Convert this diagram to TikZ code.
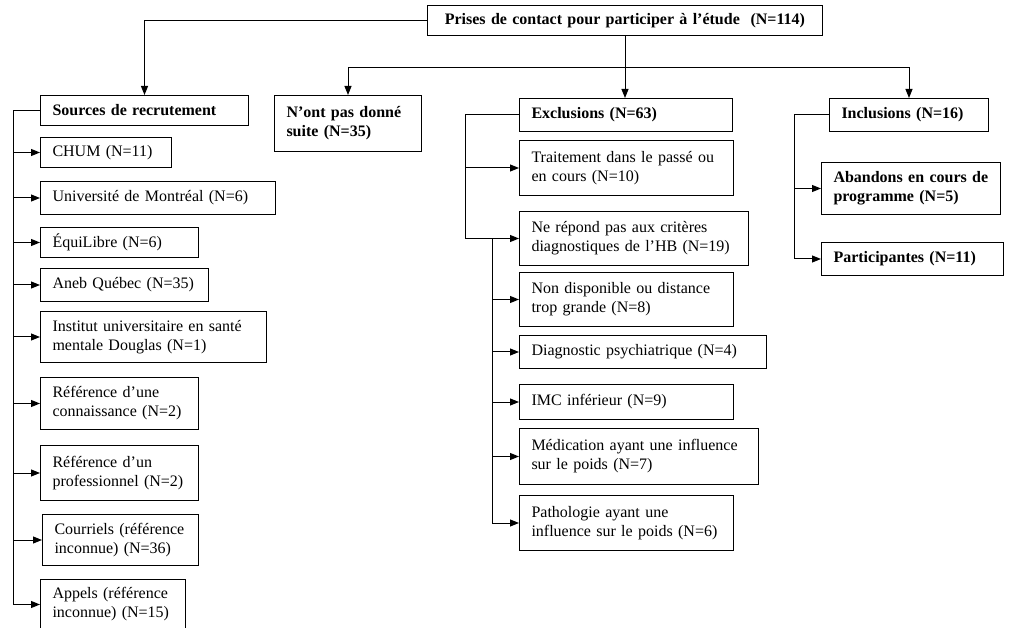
\documentclass[tikz,border=0pt]{standalone}
\usepackage{fontspec}
\setmainfont{Liberation Serif}
\usetikzlibrary{arrows.meta}

\begin{document}
\begin{tikzpicture}[
    x=1pt, y=-1pt,
    line width=1pt,
    every box/.style={
        rectangle,
        draw,
        anchor=north west,
        align=left,
        inner xsep=12pt,
        inner ysep=1pt,
        font=\fontsize{16}{19}\selectfont
    },
    title box/.style={
        every box,
        font=\fontsize{16}{19}\selectfont\bfseries
    },
    link/.style={
        -{Triangle[length=9pt,width=7pt]}
    }
]

\useasboundingbox (0,0) rectangle (1015,628);

% Top box
\node [title box, text width=371pt, minimum height=30pt] (contact) at (427,5) {~Prises de contact pour participer à l’étude~ (N=114)};

% Branches
\node [title box, text width=184pt, minimum height=30pt] (sources) at (40,95) {Sources de recrutement};
\node [title box, text width=123pt, minimum height=56pt] (nopas) at (274,95) {N’ont pas donné\\suite (N=35)};
\node [title box, text width=189pt, minimum height=33pt] (excl) at (519,98) {Exclusions (N=63)};
\node [title box, text width=135pt, minimum height=33pt] (incl) at (829,98) {Inclusions (N=16)};

% Sources de recrutement
\node [every box, text width=107pt, minimum height=30pt] (chum) at (40,137) {CHUM (N=11)};
\node [every box, text width=211pt, minimum height=33pt] (udem) at (40,181) {Université de Montréal (N=6)};
\node [every box, text width=134pt, minimum height=30pt] (equi) at (40,227) {ÉquiLibre (N=6)};
\node [every box, text width=144pt, minimum height=33pt] (aneb) at (40,268) {Aneb Québec (N=35)};
\node [every box, text width=202pt, minimum height=51pt] (douglas) at (40,311) {Institut universitaire en santé\\mentale Douglas (N=1)};
\node [every box, text width=134pt, minimum height=52pt] (conn) at (40,377) {Référence d’une\\connaissance (N=2)};
\node [every box, text width=134pt, minimum height=55pt] (prof) at (40,445) {Référence d’un\\professionnel (N=2)};
\node [every box, text width=132pt, minimum height=51pt] (courriels) at (42,514) {Courriels (référence\\inconnue) (N=36)};
\node [every box, text width=121pt, minimum height=50pt] (appels) at (40,579) {Appels (référence\\inconnue) (N=15)};

% Exclusions
\node [every box, text width=190pt, minimum height=55pt] (trait) at (519,140) {Traitement dans le passé ou\\en cours (N=10)};
\node [every box, text width=205pt, minimum height=54pt] (nerep) at (519,211) {Ne répond pas aux critères\\diagnostiques de l’HB (N=19)};
\node [every box, text width=190pt, minimum height=54pt] (nondisp) at (519,272) {Non disponible ou distance\\trop grande (N=8)};
\node [every box, text width=223pt, minimum height=33pt] (diag) at (519,335) {Diagnostic psychiatrique (N=4)};
\node [every box, text width=190pt, minimum height=35pt] (imc) at (519,384) {IMC inférieur (N=9)};
\node [every box, text width=215pt, minimum height=56pt] (medic) at (519,428) {Médication ayant une influence\\sur le poids (N=7)};
\node [every box, text width=190pt, minimum height=55pt] (patho) at (519,495) {Pathologie ayant une\\influence sur le poids (N=6)};

% Inclusions
\node [title box, text width=155pt, minimum height=52pt] (aband) at (821,162) {Abandons en cours de\\programme (N=5)};
\node [title box, text width=158pt, minimum height=33pt] (partic) at (821,242) {Participantes (N=11)};

% Draw the connections
\path (contact.south) ++(0,32) coordinate (split);
\draw [link] (contact.west) -| (sources.north);
\draw [link] (contact.south) -- (contact.south |- excl.north);
\draw [link] (split) -| (nopas.north);
\draw [link] (split) -| (incl.north);

\coordinate (srcbus) at (13,604);
\draw (sources.west) -| (srcbus);
\foreach \n in {chum,udem,equi,aneb,douglas,conn,prof,courriels,appels}
    \draw [link] (srcbus |- \n.west) -- (\n.west);

\coordinate (exbus) at (465,0);
\draw (excl.west) -| (exbus |- nerep.west);
\foreach \n in {trait,nerep}
    \draw [link] (exbus |- \n.west) -- (\n.west);

\coordinate (exbustwo) at (492,0);
\draw (exbustwo |- nerep.west) -- (exbustwo |- patho.west);
\foreach \n in {nondisp,diag,imc,medic,patho}
    \draw [link] (exbustwo |- \n.west) -- (\n.west);

\coordinate (inbus) at (794,0);
\draw (incl.west) -| (inbus |- partic.west);
\foreach \n in {aband,partic}
    \draw [link] (inbus |- \n.west) -- (\n.west);

\end{tikzpicture}
\end{document}
